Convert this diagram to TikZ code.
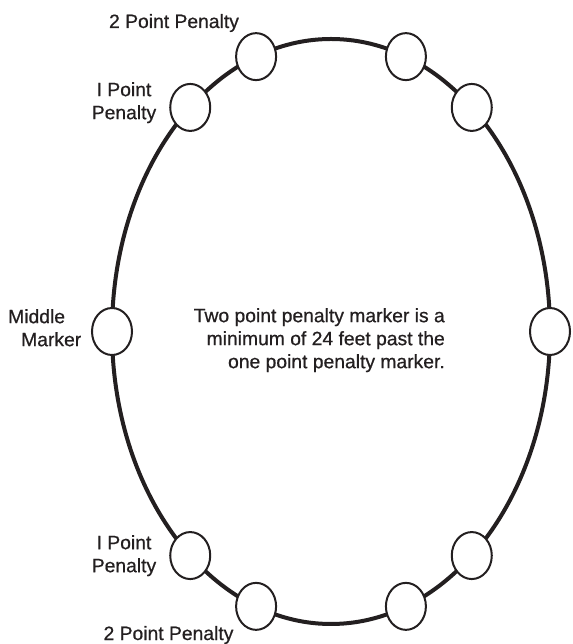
\documentclass[tikz,border=0pt]{standalone}
\usepackage{fontspec}
\setmainfont{Liberation Sans}[BoldFont=Liberation Sans,BoldFeatures={FakeBold=0.7}]
\usetikzlibrary{shapes.geometric}
\definecolor{inkGray}{HTML}{231F20}

\begin{document}
\begin{tikzpicture}[
    x=1pt,y=1pt,
    trackLine/.style={line width=4pt,draw=inkGray},
    markerOval/.style={ellipse,draw=inkGray,line width=2pt,fill=white,minimum width=40pt,minimum height=47pt,inner sep=0pt},
    penLabel/.style={font=\fontsize{19.3}{23}\selectfont\bfseries,text=inkGray,inner sep=0pt},
]
\useasboundingbox (0,0) rectangle (572,644);
\coordinate (CTR) at (331,312.5);
\draw[trackLine] (CTR) ellipse (219 and 292.5);
% markers on the track
\foreach \a in {0,50,70,110,130,180,230,250,290,310}
    \path (CTR) ++(\a:219 and 292.5) node[markerOval] (M\a) {};
% labels
\node[penLabel,anchor=base] (TOPTWO) at (174,616) {2 Point Penalty};
\node[penLabel,anchor=north,align=center] (TOPONE) at (124,562) {I Point\\Penalty};
\node[penLabel,anchor=north west,align=left] (MIDDLE) at (8,335) {Middle\\\hspace*{13pt}Marker};
\node[penLabel,anchor=north,align=center] (BOTONE) at (124,109) {I Point\\Penalty};
\node[penLabel,anchor=base] (BOTTWO) at (168.5,4) {2 Point Penalty};
\node[penLabel,anchor=north east,align=right] (NOTE) at (445,336)
    {Two point penalty marker is a\\minimum of 24 feet past the\\one point penalty marker.};
\end{tikzpicture}
\end{document}
